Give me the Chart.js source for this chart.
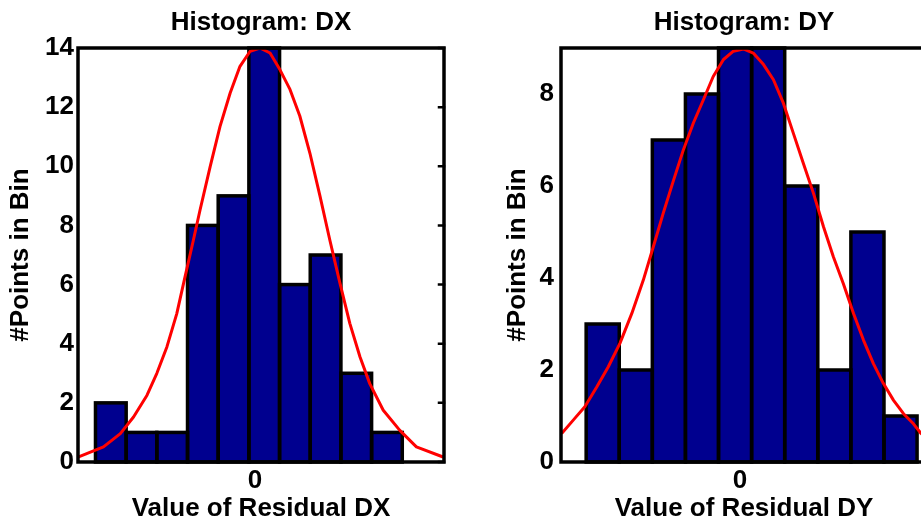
<!DOCTYPE html>
<html>
<head>
<meta charset="utf-8">
<script src="https://cdn.jsdelivr.net/npm/chart.js@4"></script>
<style>
  html, body { margin: 0; padding: 0; background: #fff; overflow: hidden; }
  #wrap { position: relative; width: 921px; height: 527px; overflow: hidden; }
  canvas { position: absolute; top: 0; }
  #dx { left: 0; }
  #dy { left: 460px; }
</style>
</head>
<body>
<div id="wrap">
  <canvas id="dx" width="460" height="527" style="width:460px;height:527px"></canvas>
  <canvas id="dy" width="480" height="527" style="width:480px;height:527px"></canvas>
</div>
<script>
'use strict';

// ─── Data (x in bin-width units, 0 = zero residual) ──────────────────────────
const dxCenters = [-4.7, -3.7, -2.7, -1.7, -0.7, 0.3, 1.3, 2.3, 3.3, 4.3];
const dxCounts  = [2, 1, 1, 8, 9, 14, 6, 7, 3, 1];
const dxFitX = [-5.75, -4.94, -4.39, -3.96, -3.52, -3.20, -2.87, -2.55, -2.28, -2.01,
                -1.79, -1.46, -1.14, -0.81, -0.49, -0.16, 0.16, 0.49, 0.81, 1.14,
                1.46, 1.79, 2.12, 2.44, 2.77, 3.09, 3.42, 3.74, 4.18, 4.72, 5.26, 6.13];
const dxFitY = [0.17, 0.51, 0.96, 1.52, 2.26, 3.0, 3.9, 5.02, 6.27, 7.5,
                8.53, 10.0, 11.35, 12.48, 13.38, 13.89, 14.0, 13.83, 13.27, 12.6,
                11.7, 10.44, 8.98, 7.5, 6.04, 4.69, 3.56, 2.65, 1.75, 1.07, 0.51, 0.17];
const dxRange  = [-5.77, 6.16];
const dxYTicks = [0, 2, 4, 6, 8, 10, 12, 14];
const dxYMax   = 14;

const dyCenters = [-4.15, -3.15, -2.15, -1.15, -0.15, 0.85, 1.85, 2.85, 3.85, 4.85];
const dyCounts  = [3, 2, 7, 8, 9, 9, 6, 2, 5, 1];
const dyFitX = [-5.39, -5.04, -4.69, -4.33, -3.98, -3.63, -3.27, -2.92, -2.62, -2.32,
                -2.02, -1.71, -1.41, -1.11, -0.81, -0.50, -0.20, 0.10, 0.40, 0.71,
                1.01, 1.31, 1.61, 1.91, 2.22, 2.52, 2.82, 3.12, 3.43, 3.73,
                4.03, 4.33, 4.64, 4.94, 5.24, 5.47, 5.65];
const dyFitY = [0.62, 0.91, 1.2, 1.63, 2.07, 2.58, 3.23, 3.96, 4.68, 5.41,
                6.1, 6.79, 7.37, 7.87, 8.38, 8.75, 8.93, 8.98, 8.89, 8.64,
                8.31, 7.8, 7.15, 6.5, 5.84, 5.12, 4.46, 3.88, 3.23, 2.65,
                2.14, 1.71, 1.34, 1.05, 0.83, 0.62, 0.5];
const dyRange  = [-5.41, 5.65];
const dyYTicks = [0, 2, 4, 6, 8];
const dyYMax   = 9;

const xTicks = [0];

// ─── Styling ─────────────────────────────────────────────────────────────────
const FONT = { family: "'Liberation Sans', Arial, sans-serif", size: 26, weight: 'bold', lineHeight: 1.2 };
const BAR_FILL = '#00008f';
const FIT_RED  = '#ff0000';

// Bar outlines stroked centred on the bar edges (MATLAB look)
const barEdgePlugin = {
  id: 'barEdges',
  afterDatasetDraw(chart, args) {
    if (args.meta.type !== 'bar') return;
    const { ctx } = chart;
    ctx.save();
    ctx.strokeStyle = '#000';
    ctx.lineWidth = 3.5;
    ctx.lineJoin = 'miter';
    for (const el of args.meta.data) {
      const { x, y, base, width } = el.getProps(['x', 'y', 'base', 'width'], true);
      ctx.strokeRect(x - width / 2, y, width, base - y);
    }
    ctx.restore();
  },
};

// MATLAB-style box with short inward ticks on the right side
const boxPlugin = {
  id: 'matlabBox',
  afterDraw(chart, args, opts) {
    const { ctx, chartArea: a, scales } = chart;
    ctx.save();
    ctx.strokeStyle = '#000';
    ctx.lineWidth = 3.5;
    ctx.lineCap = 'square';
    ctx.strokeRect(a.left, a.top, a.right - a.left, a.bottom - a.top);
    if (opts.rightTicks) {
      ctx.lineWidth = 2.5;
      ctx.beginPath();
      for (const t of scales.y.ticks) {
        const y = scales.y.getPixelForValue(t.value);
        ctx.moveTo(a.right, y);
        ctx.lineTo(a.right - 5, y);
      }
      ctx.stroke();
    }
    ctx.restore();
  },
};

function toPoints(xs, ys) {
  return xs.map((x, i) => ({ x, y: ys[i] }));
}

function makeHistogram(canvasId, cfg) {
  const ctx = document.getElementById(canvasId).getContext('2d');
  return new Chart(ctx, {
    type: 'bar',
    data: {
      datasets: [{
        type: 'bar',
        data: toPoints(cfg.centers, cfg.counts),
        backgroundColor: BAR_FILL,
        borderWidth: 0,
        inflateAmount: 0.5,
        barPercentage: 1,
        categoryPercentage: 1,
        order: 2,
      }, {
        type: 'line',
        data: toPoints(cfg.fitX, cfg.fitY),
        borderColor: FIT_RED,
        borderWidth: 3,
        borderJoinStyle: 'round',
        pointRadius: 0,
        tension: 0,
        fill: false,
        order: 1,
      }],
    },
    options: {
      responsive: false,
      animation: false,
      devicePixelRatio: 1,
      layout: { padding: { left: 0, right: cfg.padRight, top: 0, bottom: 0 } },
      plugins: {
        legend:  { display: false },
        tooltip: { enabled: false },
        matlabBox: { rightTicks: cfg.rightTicks },
        title: {
          display: true,
          text: cfg.title,
          color: '#000',
          font: FONT,
          fullSize: false,
          padding: { top: 7, bottom: 9.8 },
        },
      },
      scales: {
        x: {
          type: 'linear',
          min: cfg.range[0],
          max: cfg.range[1],
          offset: false,
          grid: { display: false, drawTicks: false, offset: false },
          border: { display: false },
          afterBuildTicks: (s) => { s.ticks = xTicks.map(v => ({ value: v })); },
          afterFit: (s) => { s.height = 65; },
          ticks: { color: '#000', font: FONT, padding: 3, maxRotation: 0 },
          title: {
            display: true,
            text: cfg.xLabel,
            color: '#000',
            font: FONT,
            padding: { top: 0, bottom: 3 },
          },
        },
        y: {
          min: 0,
          max: cfg.yMax,
          grid: { display: false, drawTicks: false },
          border: { display: false },
          afterBuildTicks: (s) => { s.ticks = cfg.yTicks.map(v => ({ value: v })); },
          afterFit: (s) => { s.width = cfg.yAxisWidth; },
          ticks: { color: '#000', font: FONT, padding: cfg.yTickPad },
          title: {
            display: true,
            text: '#Points in Bin',
            color: '#000',
            font: FONT,
            padding: { top: cfg.yTitlePad, bottom: 0 },
          },
        },
      },
    },
    plugins: [barEdgePlugin, boxPlugin],
  });
}

makeHistogram('dx', {
  title: 'Histogram: DX',
  xLabel: 'Value of Residual DX',
  centers: dxCenters, counts: dxCounts,
  fitX: dxFitX, fitY: dxFitY,
  range: dxRange, yTicks: dxYTicks, yMax: dxYMax,
  padRight: 16, yAxisWidth: 78, yTickPad: 4, yTitlePad: 5,
  rightTicks: true,
});

makeHistogram('dy', {
  title: 'Histogram: DY',
  xLabel: 'Value of Residual DY',
  centers: dyCenters, counts: dyCounts,
  fitX: dyFitX, fitY: dyFitY,
  range: dyRange, yTicks: dyYTicks, yMax: dyYMax,
  padRight: 13, yAxisWidth: 101, yTickPad: 7, yTitlePad: 42,
  rightTicks: false,
});
</script>
</body>
</html>
